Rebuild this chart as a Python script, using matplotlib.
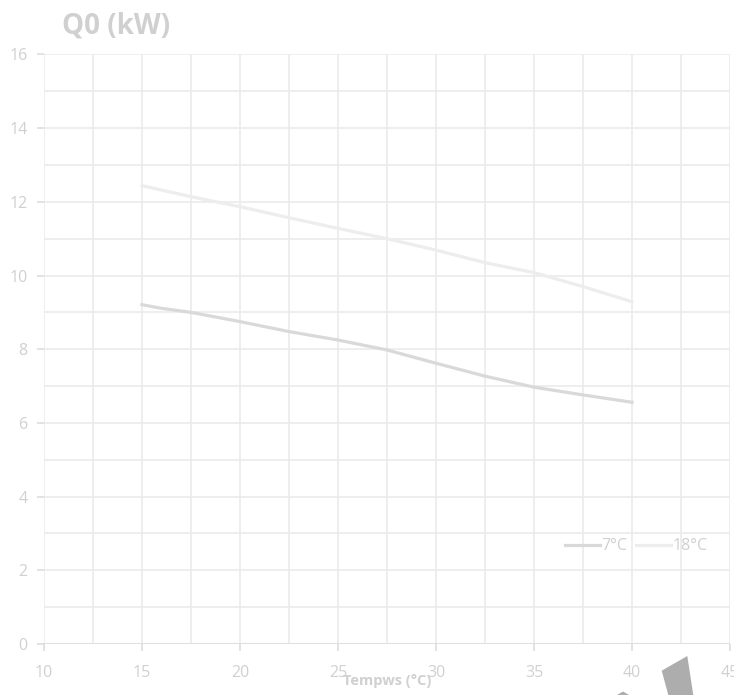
import matplotlib
matplotlib.use("Agg")
import matplotlib.pyplot as plt
from matplotlib.patches import Polygon
from matplotlib.ticker import MultipleLocator

plt.rcParams['font.family'] = ['Open Sans', 'DejaVu Sans']

# values
temp_ws = [15, 16, 17.5, 20, 22.5, 25, 27.5, 30, 32.5, 33.5, 35, 37.5, 40]
q0_7c = [9.21, 9.11, 9.0, 8.75, 8.48, 8.25, 7.98, 7.62, 7.27, 7.15, 6.97, 6.76, 6.56]
temp_18 = [15, 17.5, 20, 22.5, 25, 27.5, 30, 32.5, 35, 37.5, 40]
q0_18c = [12.44, 12.14, 11.87, 11.57, 11.28, 11.0, 10.69, 10.35, 10.08, 9.70, 9.29]
series_names = ['7°C', '18°C']

text_col = '#d0d0d0'
grid_col = '#ebebeb'

fig = plt.figure(figsize=(7.34, 6.95), dpi=100)
ax = fig.add_axes([0.0599, 0.0734, 0.9347, 0.8482])

ax.plot(temp_ws, q0_7c, color='#d9d9d9', lw=2.3, label=series_names[0], zorder=3)
ax.plot(temp_18, q0_18c, color='#ededed', lw=2.3, label=series_names[1], zorder=3)

ax.set_xlim(10, 45)
ax.set_ylim(0, 16)
ax.xaxis.set_major_locator(MultipleLocator(5))
ax.xaxis.set_minor_locator(MultipleLocator(2.5))
ax.yaxis.set_major_locator(MultipleLocator(2))
ax.yaxis.set_minor_locator(MultipleLocator(1))
ax.grid(which='both', color=grid_col, lw=1.2, zorder=0)
ax.set_axisbelow(True)
for s in ax.spines.values():
    s.set_visible(False)
ax.axhline(0, color='#e0e0e0', lw=1.5, zorder=1)

ax.tick_params(which='major', colors='#dddddd', length=5, width=1.2,
               labelcolor=text_col, labelsize=11.5, pad=10)
ax.tick_params(axis='y', pad=7)
ax.tick_params(which='minor', length=0)

ax.set_xlabel('Tempws (°C)', fontsize=10.5, fontweight='bold', color=text_col, labelpad=-5)
fig.text(0.084, 0.963, 'Q0 (kW)', fontsize=20, fontweight='bold', color=text_col,
         va='center', ha='left')

ax.legend(loc='center right', bbox_to_anchor=(0.988, 0.166), ncol=2, frameon=False,
          fontsize=11.5, labelcolor=text_col, handlelength=2.2, handletextpad=0.1,
          columnspacing=0.5)

# grey pointer shape drawn over the bottom right corner
W, H = 734, 695
quad = [(661.7, 670.7), (687.3, 656), (693.3, 695), (668.3, 695)]
tri = [(617, 695), (623, 691.5), (629, 695)]
for pts in (quad, tri):
    fig.add_artist(Polygon([(x / W, 1 - y / H) for x, y in pts], closed=True,
                           transform=fig.transFigure, color='#adadad', lw=0))

fig.savefig('out.png', dpi=100)
